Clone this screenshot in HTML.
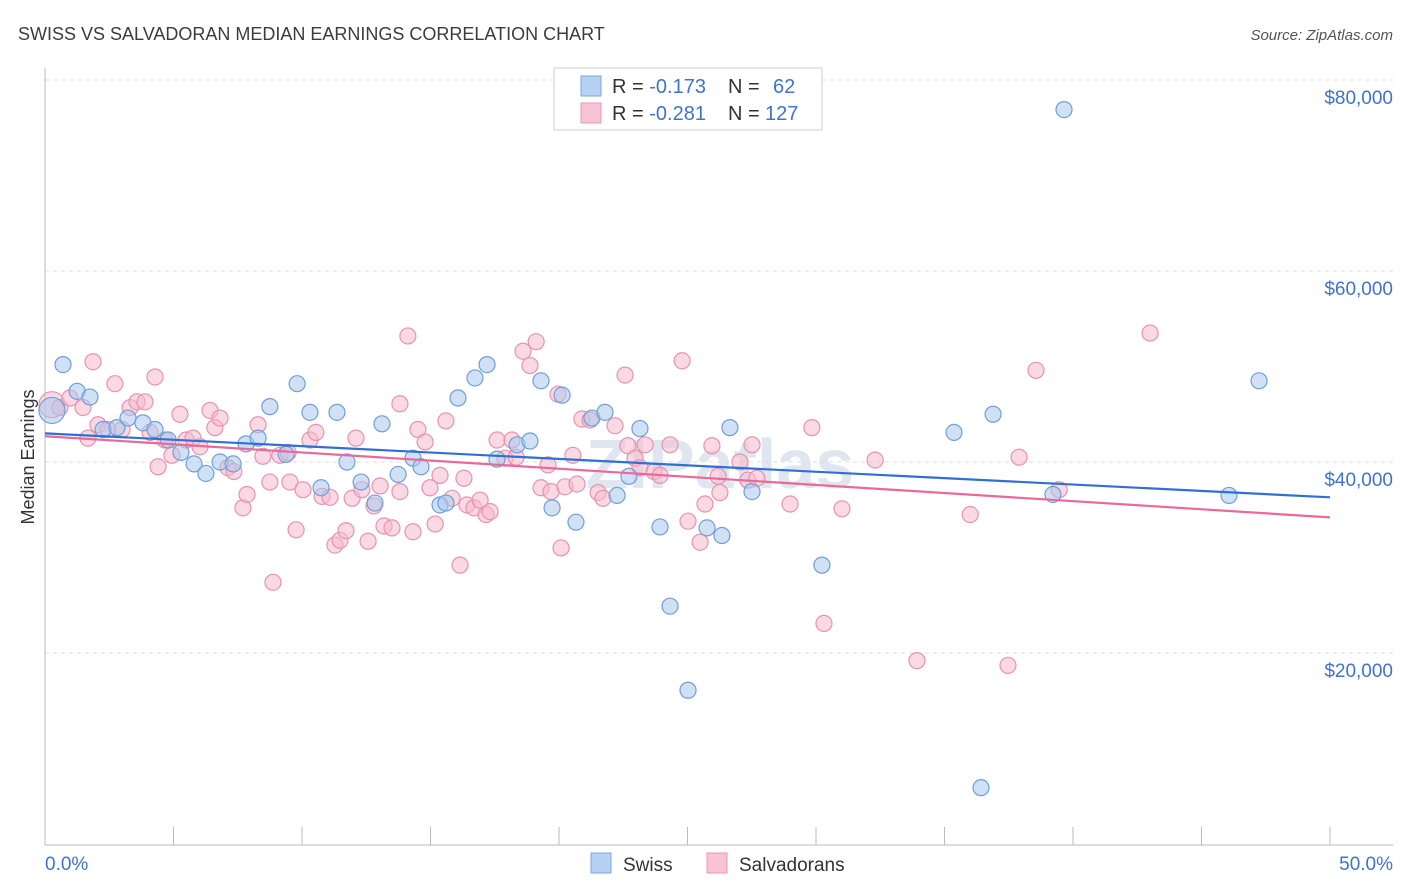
<!DOCTYPE html>
<html><head><meta charset="utf-8"><style>
body{margin:0;background:#fff;font-family:"Liberation Sans",sans-serif;}
#wrap{position:relative;width:1406px;height:892px;overflow:hidden;}
</style></head><body>
<div id="wrap">
<svg id="chart" width="1406" height="892" xmlns="http://www.w3.org/2000/svg">
<text x="18" y="40" font-size="18" fill="#3c3c3c">SWISS VS SALVADORAN MEDIAN EARNINGS CORRELATION CHART</text>
<text x="1393" y="40" font-size="15" font-style="italic" fill="#555" text-anchor="end">Source: ZipAtlas.com</text>
<text x="720" y="488" font-size="70" fill="#dfe6ef" text-anchor="middle" font-weight="bold">ZIPatlas</text>
<text x="34" y="457" font-size="18" fill="#333" text-anchor="middle" transform="rotate(-90 34 457)">Median Earnings</text>
<g id="grid"></g><g id="axes"></g><g id="trend"></g><g id="pts"></g>
<g>
<rect x="554" y="68" width="268" height="62" fill="#fff" stroke="#ccc"/>
<rect x="581" y="76" width="20" height="20" fill="#b7d1f2" stroke="#7aa6dc"/>
<rect x="581" y="103" width="20" height="20" fill="#f8c3d4" stroke="#ea97b2"/>
<text x="612" y="93" font-size="20" fill="#333">R = <tspan fill="#3f74c9">-0.173</tspan><tspan x="728">N = </tspan><tspan x="773" fill="#3f74c9">62</tspan></text>
<text x="612" y="120" font-size="20" fill="#333">R = <tspan fill="#3f74c9">-0.281</tspan><tspan x="728">N = </tspan><tspan x="765" fill="#3f74c9">127</tspan></text>
</g>
<g>
<rect x="591" y="853" width="20" height="20" fill="#b7d1f2" stroke="#7aa6dc"/>
<text x="623" y="871" font-size="19" fill="#333">Swiss</text>
<rect x="707" y="853" width="20" height="20" fill="#f8c3d4" stroke="#ea97b2"/>
<text x="739" y="871" font-size="19" fill="#333">Salvadorans</text>
</g>
</svg>
</div>
<script>
const yTicks=[20000,40000,60000,80000];
const yTickLabels=["$20,000","$40,000","$60,000","$80,000"];
const xTicks=[0,5,10,15,20,25,30,35,40,45,50];
const xTickLabels=["0.0%","50.0%"];
const swissX=[0.27,0.70,1.25,1.75,2.26,2.80,3.23,3.81,4.28,4.79,5.29,5.80,6.26,6.81,7.32,7.82,8.29,8.75,9.38,9.81,10.31,10.74,11.36,11.75,12.30,12.84,13.11,13.74,14.32,14.63,15.37,15.60,16.07,16.73,17.20,17.59,18.37,18.87,19.30,19.73,20.12,20.66,21.28,21.79,22.26,22.72,23.15,23.93,24.32,25.02,25.76,26.34,26.65,27.51,30.23,35.37,36.42,36.89,39.22,39.65,46.07,47.24];
const swissY=[45.4,50.2,47.4,46.8,43.4,43.6,44.6,44.1,43.4,42.3,41.0,39.8,38.8,40.0,39.8,41.9,42.5,45.8,40.8,48.2,45.2,37.3,45.2,40.0,37.9,35.7,44.0,38.7,40.4,39.5,35.5,35.7,46.7,48.8,50.2,40.3,41.8,42.2,48.5,35.2,47.0,33.7,44.6,45.2,36.5,38.5,43.5,33.2,24.9,16.1,33.1,32.3,43.6,36.9,29.2,43.1,5.9,45.0,36.6,76.9,36.5,48.5];
const salvX=[0.27,0.58,0.97,1.48,1.67,1.87,2.06,2.45,2.72,3.00,3.31,3.58,3.89,4.09,4.28,4.40,4.67,4.94,5.25,5.49,5.76,6.03,6.42,6.61,6.81,7.12,7.35,7.70,7.86,8.29,8.48,8.75,8.87,9.14,9.46,9.53,9.77,10.04,10.31,10.54,10.78,11.09,11.28,11.48,11.71,11.95,12.10,12.33,12.57,12.80,13.04,13.19,13.50,13.81,13.81,14.12,14.32,14.51,14.79,14.98,15.18,15.37,15.60,15.84,16.15,16.30,16.42,16.69,16.93,17.16,17.32,17.59,17.90,18.17,18.33,18.60,18.87,19.11,19.30,19.57,19.69,19.96,20.08,20.23,20.54,20.70,20.89,21.21,21.52,21.71,22.18,22.57,22.68,22.96,23.15,23.35,23.70,23.93,24.32,24.79,25.02,25.49,25.68,25.95,26.19,26.26,27.04,27.35,27.51,27.70,28.99,29.84,30.31,31.01,32.30,33.93,36.00,37.47,37.90,38.56,39.46,43.00];
const salvY=[46.0,45.7,46.7,45.7,42.5,50.5,43.9,43.4,48.2,43.4,45.7,46.3,46.3,43.1,48.9,39.5,42.3,40.7,45.0,42.3,42.5,41.6,45.4,43.6,44.6,39.4,39.0,35.2,36.6,43.9,40.6,37.9,27.4,40.7,41.0,37.9,32.9,37.1,42.3,43.1,36.4,36.3,31.3,31.8,32.8,36.2,42.5,37.1,31.7,35.4,37.5,33.3,33.1,46.1,36.9,53.2,32.7,43.4,42.1,37.3,33.5,38.6,44.3,36.2,29.2,38.3,35.5,35.2,36.0,34.5,34.8,42.3,40.4,42.3,40.5,51.6,50.1,52.6,37.3,39.7,36.9,47.1,31.0,37.4,40.7,37.7,44.5,44.4,36.8,36.2,43.8,49.1,41.7,40.4,39.4,41.8,39.0,38.6,41.8,50.6,33.8,31.6,35.6,41.7,38.5,36.8,40.0,38.1,41.8,38.3,35.6,43.6,23.1,35.1,40.2,19.2,34.5,18.7,40.5,49.6,37.1,53.5];
const trendSwiss=[43.0,36.3];
const trendSalv=[42.7,34.2];

const NS="http://www.w3.org/2000/svg";
const xS=p=>45+p*(1285/50);
const yS=v=>80+(80000-v)*191/20000;
function mk(tag,attrs,parent){const e=document.createElementNS(NS,tag);for(const k in attrs)e.setAttribute(k,attrs[k]);parent.appendChild(e);return e;}
const grid=document.getElementById('grid'),axes=document.getElementById('axes'),trend=document.getElementById('trend'),pts=document.getElementById('pts');
yTicks.forEach((t,i)=>{
 const l=mk('line',{x1:45,x2:1393,y1:yS(t),y2:yS(t),stroke:'#dcdcdc','stroke-dasharray':'4,4'},grid);
 
 
 const tx=mk('text',{x:1393,y:yS(t)+24,'font-size':19,fill:'#3f74c9','text-anchor':'end'},grid);
 tx.textContent=yTickLabels[i];
 
 
});
const ax=mk('line',{x1:45,x2:1393,y1:845,y2:845,stroke:'#bbb'},axes);


const ay=mk('line',{x1:45,x2:45,y1:68,y2:845,stroke:'#bbb'},axes);


xTicks.forEach(t=>{
 const l=mk('line',{x1:xS(t),x2:xS(t),y1:827,y2:845,stroke:'#bbb'},axes);
 
 
});
[[0,'start'],[50,'end']].forEach((a,i)=>{
 const tx=mk('text',{x:i?1393:45,y:870,'font-size':19,fill:'#3f74c9','text-anchor':a[1]},axes);
 tx.textContent=xTickLabels[i];
 
 
});
function dots(X,Y,fill,stroke,name){
 X.forEach((x,i)=>{
  const c=mk('circle',{cx:xS(x),cy:yS(Y[i]*1000),r:i===0?13:8,fill:fill,'fill-opacity':0.55,stroke:stroke,'stroke-width':1.2},pts);
  
  
 });
}
dots(salvX,salvY,'#f6b9cd','#e793af','salvadoran-point');
dots(swissX,swissY,'#a9c8ef','#6f9fd8','swiss-point');
const t1=mk('line',{x1:xS(0),x2:xS(50),y1:yS(trendSwiss[0]*1000),y2:yS(trendSwiss[1]*1000),stroke:'#2f6fd6','stroke-width':2.2},trend);


const t2=mk('line',{x1:xS(0),x2:xS(50),y1:yS(trendSalv[0]*1000),y2:yS(trendSalv[1]*1000),stroke:'#e8699a','stroke-width':2.2},trend);


document.getElementById('chart').appendChild(trend);
</script>
</body></html>
